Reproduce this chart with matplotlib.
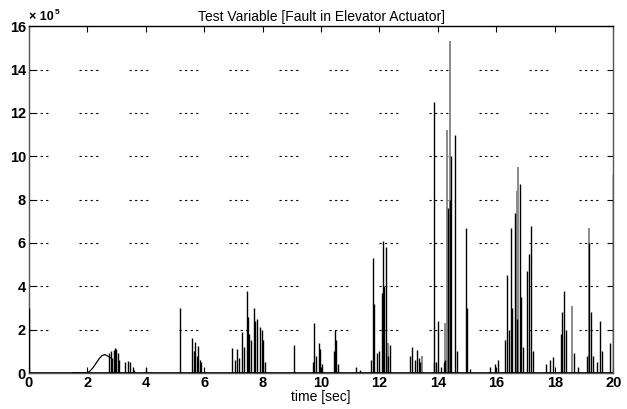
import matplotlib
matplotlib.use('Agg')
import matplotlib.pyplot as plt
import numpy as np

plt.rcParams['font.family'] = ['Liberation Sans', 'DejaVu Sans']

# values in units of 1e5
spike_t = [0.02,
           2.75, 2.8, 2.85, 2.9, 2.95, 3.0, 3.05, 3.1,
           3.3, 3.4, 3.45, 3.55, 3.6, 4.0,
           5.18,
           5.6, 5.65, 5.7, 5.75, 5.8, 5.85, 5.9,
           6.95, 7.05, 7.12, 7.2, 7.28, 7.35, 7.45, 7.5, 7.55, 7.62, 7.7, 7.75, 7.82, 7.9, 7.97, 8.02, 8.08,
           9.08,
           9.72, 9.77, 9.82, 9.93, 9.97, 10.02,
           10.43, 10.47, 10.52, 10.57,
           11.2, 11.35,
           11.7, 11.78, 11.82, 11.9, 12.0, 12.08, 12.12, 12.17, 12.22, 12.28, 12.36,
           13.05, 13.1, 13.2, 13.3, 13.35, 13.4,
           13.85, 13.88, 13.95, 14.0, 14.1, 14.2, 14.25, 14.35, 14.4, 14.45, 14.6, 14.65,
           14.97, 15.0, 15.1,
           15.8, 15.95, 16.06,
           16.3, 16.37, 16.42, 16.5, 16.55, 16.65, 16.72, 16.8, 16.85, 16.92, 17.05, 17.12, 17.2, 17.25,
           17.7, 17.85, 17.95,
           18.2, 18.25, 18.32, 18.38, 18.65, 18.8,
           19.1, 19.18, 19.25, 19.3, 19.45, 19.55, 19.6, 19.9, 19.98]
spike_v = [3.0,
           0.9, 1.0, 0.7, 1.05, 1.15, 1.1, 0.9, 0.6,
           0.5, 0.55, 0.5, 0.3, 0.15, 0.25,
           3.0,
           1.6, 1.0, 1.45, 0.8, 1.25, 0.6, 0.5,
           1.15, 0.6, 1.1, 0.7, 1.9, 1.2, 3.8, 2.6, 1.8, 1.5, 3.0, 2.4, 2.5, 2.1, 2.0, 1.5, 0.5,
           1.3,
           0.5, 2.3, 0.8, 1.4, 1.1, 0.4,
           1.0, 2.0, 1.5, 0.4,
           0.3, 0.15,
           0.6, 5.3, 3.2, 0.9, 1.0, 3.7, 6.1, 4.0, 5.8, 0.8, 1.3,
           0.8, 1.2, 0.6, 1.05, 0.7, 0.5,
           0.5, 12.5, 0.5, 2.4, 0.3, 0.5, 0.6, 7.6, 8.0, 10.0, 11.0, 1.0,
           6.7, 3.0, 0.2,
           0.3, 0.4, 0.6,
           1.5, 4.5, 2.0, 6.7, 3.0, 7.4, 2.5, 8.7, 3.5, 1.2, 4.7, 5.5, 6.8, 1.0,
           0.4, 0.6, 0.75,
           1.8, 2.8, 3.8, 2.0, 0.9, 0.3,
           0.8, 6.0, 2.8, 0.8, 0.5, 2.4, 1.0, 1.4, 9.2]

# faint (grey) traces in the scan
grey_t = [12.3, 13.45, 14.25, 14.3, 14.42, 16.7, 16.75, 18.6, 19.18]
grey_v = [1.4, 0.8, 2.3, 11.2, 15.3, 8.4, 9.5, 3.1, 6.7]

# slow rise before the first burst
hump_t = [1.5, 2.0, 2.1, 2.2, 2.3, 2.4, 2.5, 2.6, 2.7, 2.8]
hump_v = [0.0, 0.0, 0.1, 0.25, 0.45, 0.65, 0.8, 0.85, 0.78, 0.7]

xticks = list(range(0, 21, 2))
yticks = list(range(0, 17, 2))

fig = plt.figure(figsize=(6.27, 4.09), dpi=100)
ax = fig.add_axes([0.046, 0.088, 0.932, 0.848])

for y in yticks[1:-1]:
    ax.axhline(y, color='black', lw=0.8, ls=(0, (2, 3, 2, 3, 2, 3, 2, 28)), zorder=1)

ax.vlines(grey_t, 0, grey_v, colors='#8a8a8a', lw=1.4, zorder=2)
ax.vlines(spike_t, 0, spike_v, colors='black', lw=1.0, zorder=3)
ax.plot(hump_t, hump_v, color='black', lw=0.9, zorder=3)
ax.plot([0, 20], [0, 0], color='black', lw=1.2, zorder=3)

ax.set_xlim(0, 20)
ax.set_ylim(0, 16)
ax.set_xticks(xticks)
ax.set_yticks(yticks)
ax.tick_params(direction='in', length=4, top=True, right=True, labelsize=10.5, pad=2)
for lab in ax.get_xticklabels() + ax.get_yticklabels():
    lab.set_fontweight('bold')
for s in ax.spines.values():
    s.set_linewidth(1.0)
ax.spines['left'].set_color('#555555')
ax.spines['bottom'].set_color('#555555')
ax.spines['right'].set_color('#555555')

ax.set_title('Test Variable [Fault in Elevator Actuator]', fontsize=10, pad=4)
ax.set_xlabel('time [sec]', fontsize=10, labelpad=0)
ax.text(0.0, 1.008, '× 10', transform=ax.transAxes, fontsize=9, ha='left', va='bottom', fontweight='bold')
ax.text(0.045, 1.03, '5', transform=ax.transAxes, fontsize=6, ha='left', va='bottom', fontweight='bold')

fig.savefig('out.png', dpi=100)
